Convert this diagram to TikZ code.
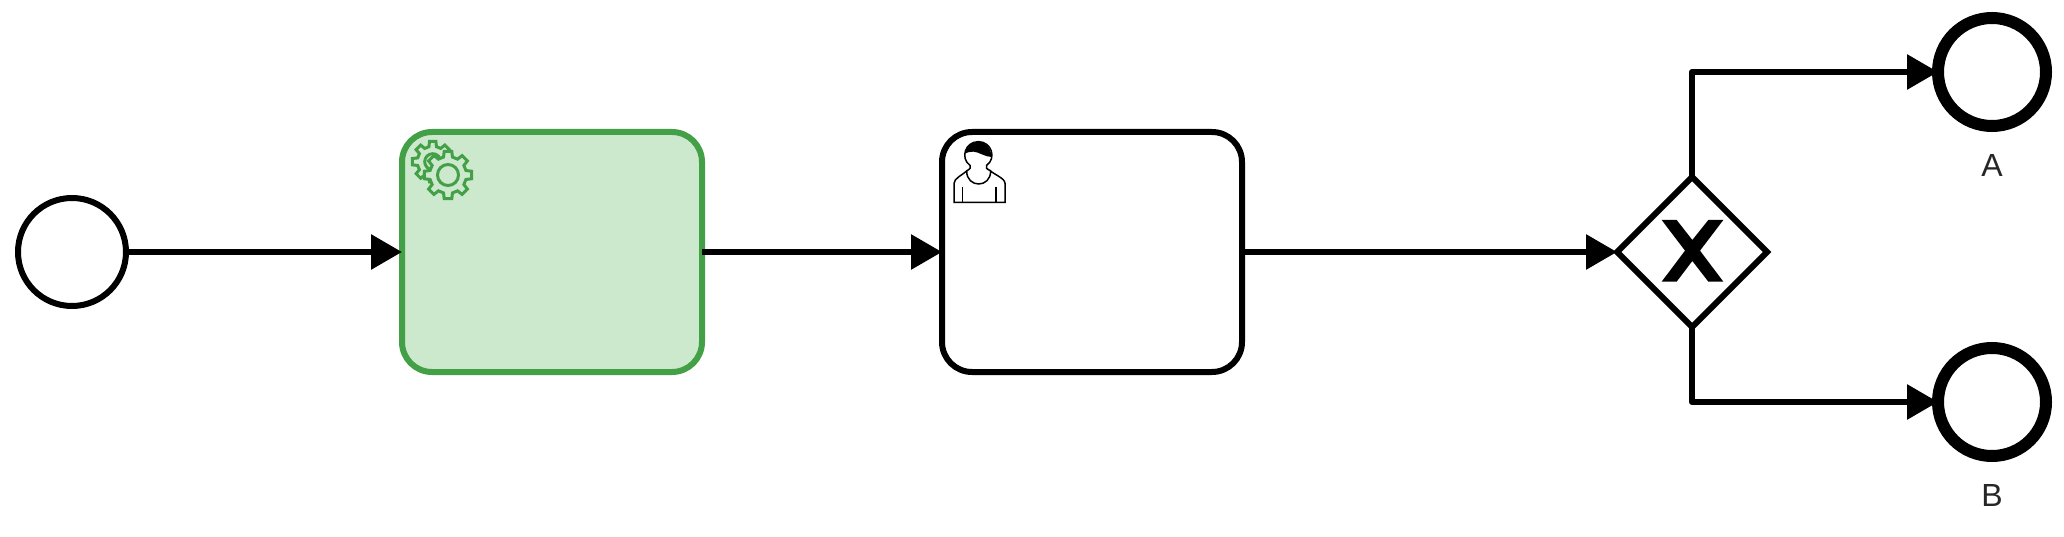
\documentclass[tikz,border=0pt]{standalone}
\usepackage{fontspec}
\setmainfont{Liberation Sans}
\usetikzlibrary{arrows.meta,shapes.geometric}
\definecolor{taskline}{HTML}{43A047}
\definecolor{taskfill}{HTML}{CDE9CD}

\tikzset{
	event/.style={draw,circle,line width=6pt,minimum size=108pt,inner sep=0pt,outer sep=0pt},
	endevent/.style={event,line width=12pt},
	task/.style={draw,rounded corners=30pt,line width=6pt,minimum width=300pt,minimum height=240pt,inner sep=0pt,outer sep=0pt},
	gateway/.style={draw,diamond,aspect=1,line width=6pt,minimum size=150pt,inner sep=0pt,outer sep=0pt},
	flow/.style={line width=6pt,line join=round,-{Triangle[length=31pt,width=34pt]}},
	endlabel/.style={inner sep=0pt,font=\fontsize{32}{32}\selectfont,text=black!85},
	gearline/.style={draw=taskline,line width=3pt,fill=taskfill},
}

\begin{document}
\begin{tikzpicture}[x=1pt,y=-1pt]
	\useasboundingbox (0,0) rectangle (2064,537);

	% Events, tasks and the gateway
	\node[event] (start) at (72,252) {};
	\node[task,draw=taskline,fill=taskfill] (service) at (552,252) {};
	\node[task] (user) at (1092,252) {};
	\node[gateway] (gate) at (1692,252) {};
	\node[endevent] (endA) at (1992,72) {};
	\node[endevent] (endB) at (1992,402) {};
	\node[endlabel] (labelA) at (1992,165) {A};
	\node[endlabel] (labelB) at (1992,495) {B};

	% Sequence flows
	\draw[flow] (start) -- (service);
	\draw[flow] (service) -- (user);
	\draw[flow] (user) -- (gate);
	\draw[flow] (gate.north) |- (endA.west);
	\draw[flow] (gate.south) |- (endB.west);

	% Exclusive marker
	\begin{scope}[shift={(1580,160)},x=0.3333pt,y=-0.3333pt]
		\fill (245,180) -- (290,180) -- (337,240) -- (385,180) -- (430,180) -- (360,272) -- (430,365)
			-- (385,365) -- (337,303) -- (290,365) -- (245,365) -- (315,272) -- cycle;
	\end{scope}

	% Service task gears
	\begin{scope}[shift={(432.7,161.7)}]
		\draw[gearline] (-14:15.5)
			\foreach \a in {0,45,...,315} {
				-- (\a-14:15.5) -- (\a-9:20.5) -- (\a+9:20.5) -- (\a+14:15.5)
			} -- cycle;
		\draw[gearline] (0,0) circle (8);
	\end{scope}
	\begin{scope}[shift={(448,175)}]
		\draw[gearline] (-14:18.5)
			\foreach \a in {0,45,...,315} {
				-- (\a-14:18.5) -- (\a-9:24) -- (\a+9:24) -- (\a+14:18.5)
			} -- cycle;
		\draw[gearline] (0,0) circle (10.5);
	\end{scope}

	% User task icon
	\begin{scope}[shift={(940,125)},x=0.3333pt,y=-0.3333pt,line width=1.5pt]
		\draw (80,138) .. controls (92,130) .. (90,121) .. controls (60,100) and (75,50) .. (115,50)
			.. controls (155,50) and (170,100) .. (140,121) .. controls (138,130) .. (152,138);
		\fill (76,85) .. controls (78,65) and (95,50) .. (115,50) .. controls (135,50) and (152,65) .. (155,96)
			.. controls (135,96) and (115,80) .. (100,80) .. controls (90,80) and (82,82) .. (76,85) -- cycle;
		\draw (42,232) -- (42,175) .. controls (42,160) and (70,148) .. (80,138)
			.. controls (80,190) and (152,190) .. (152,138) .. controls (162,148) and (195,160) .. (195,175)
			-- (195,232) -- cycle;
		\draw (68,185) -- (68,232);
		\draw (168,185) -- (168,232);
	\end{scope}
\end{tikzpicture}
\end{document}
